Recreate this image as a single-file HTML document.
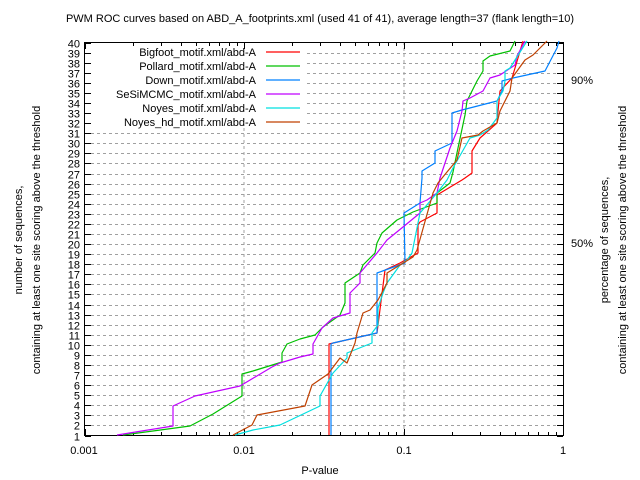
<!DOCTYPE html>
<html><head><meta charset="utf-8"><style>body{margin:0;background:#fff}svg{display:block}text{font-family:"Liberation Sans",sans-serif;font-size:11px;fill:#000}</style></head><body>
<svg width="640" height="480" xmlns="http://www.w3.org/2000/svg">
<g id="grid" stroke="#a0a0a0" stroke-dasharray="3,3" stroke-width="1"></g>
<rect x="85" y="43" width="222" height="85" fill="#fff"/>
<line x1="244" y1="128" x2="244" y2="435" stroke="#a0a0a0" stroke-dasharray="3,3"/>
<line x1="404" y1="42" x2="404" y2="435" stroke="#a0a0a0" stroke-dasharray="3,3"/>
<g id="ticks" stroke="#000"></g>
<rect x="84.5" y="42.5" width="479" height="393" fill="none" stroke="#000"/>
<g fill="none" stroke-width="1.2" stroke-linejoin="round">
<polyline stroke="#ff0000" points="329,435 329,344 355,338 377,333 385,270 400,263 418,253 418,225 420,222 437,213 437,195 462,180 465,178 472,173 472,151 480,138 488,131 497,123 498,111 500,91 512,78 515,68 518,58 523,41"/>
<polyline stroke="#00c000" points="123,435 190,426 213,414 242,396 242,374 253,371 282,362 282,353 287,344 300,339 315,335 323,327 340,315 345,303 345,283 360,273 363,265 375,253 377,243 382,233 397,220 413,212 437,203 437,193 450,183 453,172 458,148 465,115 467,101 477,81 483,71 483,61 490,56 510,51 515,41"/>
<polyline stroke="#0080ff" points="331,435 331,344 333,343 355,338 377,333 377,273 405,263 404,213 420,203 422,178 422,171 435,163 435,151 452,143 452,113 462,110 497,101 502,91 502,81 513,78 545,71 557,48 559,41"/>
<polyline stroke="#c000ff" points="117,435 173,426 173,406 195,396 240,386 272,367 280,363 300,357 313,354 313,344 322,328 333,318 350,313 350,293 360,283 360,273 377,253 387,240 403,227 420,213 420,203 427,200 437,193 440,178 450,148 457,131 462,111 463,101 470,98 483,91 490,78 500,75 515,65 517,56 525,41"/>
<polyline stroke="#00e0e0" points="235,435 253,430 280,425 320,406 320,396 333,373 347,358 347,353 372,343 372,333 378,325 378,308 383,293 387,283 395,272 400,265 407,260 412,253 420,213 437,193 447,180 453,168 470,138 480,135 488,130 497,118 497,101 503,91 505,81 505,71 510,68 527,41"/>
<polyline stroke="#c04000" points="233,435 252,425 257,415 305,406 312,385 328,374 340,358 347,363 355,343 357,333 363,313 370,310 378,300 387,283 387,273 413,257 417,250 433,193 438,183 447,172 457,160 462,138 478,135 483,131 497,123 500,111 510,91 512,78 525,60 533,55 543,45 547,41"/>
</g>
<g font-size="11">
<text x="256" y="56" text-anchor="end">Bigfoot_motif.xml/abd-A</text>
<text x="256" y="70" text-anchor="end">Pollard_motif.xml/abd-A</text>
<text x="256" y="84" text-anchor="end">Down_motif.xml/abd-A</text>
<text x="256" y="98" text-anchor="end">SeSiMCMC_motif.xml/abd-A</text>
<text x="256" y="112" text-anchor="end">Noyes_motif.xml/abd-A</text>
<text x="256" y="126" text-anchor="end">Noyes_hd_motif.xml/abd-A</text>
</g>
<g stroke-width="1.2">
<line x1="266" x2="300" y1="52" y2="52" stroke="#ff0000"/>
<line x1="266" x2="300" y1="66" y2="66" stroke="#00c000"/>
<line x1="266" x2="300" y1="80" y2="80" stroke="#0080ff"/>
<line x1="266" x2="300" y1="94" y2="94" stroke="#c000ff"/>
<line x1="266" x2="300" y1="108" y2="108" stroke="#00e0e0"/>
<line x1="266" x2="300" y1="122" y2="122" stroke="#c04000"/>
</g>
<g id="ylab"></g>
<text x="84" y="454" text-anchor="middle">0.001</text>
<text x="244" y="454" text-anchor="middle">0.01</text>
<text x="404" y="454" text-anchor="middle">0.1</text>
<text x="563" y="454" text-anchor="middle">1</text>
<text x="571" y="84">90%</text>
<text x="571" y="247">50%</text>
<text x="320" y="22" text-anchor="middle">PWM ROC curves based on ABD_A_footprints.xml (used 41 of 41), average length=37 (flank length=10)</text>
<text x="320" y="474" text-anchor="middle">P-value</text>
<text transform="translate(22,240) rotate(-90)" text-anchor="middle">number of sequences,</text>
<text transform="translate(40,240) rotate(-90)" text-anchor="middle">containing at least one site scoring above the threshold</text>
<text transform="translate(608,240) rotate(-90)" text-anchor="middle">percentage of sequences,</text>
<text transform="translate(626,240) rotate(-90)" text-anchor="middle">containing at least one site scoring above the threshold</text>
</svg>
<script>
(function(){var ns="http://www.w3.org/2000/svg";var g=document.getElementById("grid"),t=document.getElementById("ticks"),l=document.getElementById("ylab");
function ln(p,a){var e=document.createElementNS(ns,"line");for(var k in a)e.setAttribute(k,a[k]);p.appendChild(e);}
for(var n=1;n<=40;n++){var y=435.5-(n-1)*(393/39);y=Math.round(y)+0.5;
if(n>1&&n<40)ln(g,{x1:(y<128?307:85),x2:563,y1:y,y2:y});
ln(t,{x1:85,x2:91,y1:y,y2:y});ln(t,{x1:557,x2:563,y1:y,y2:y});
var e=document.createElementNS(ns,"text");e.setAttribute("x",80);e.setAttribute("y",y+4);e.setAttribute("text-anchor","end");e.textContent=n;l.appendChild(e);}
for(var d=0;d<3;d++)for(var m=1;m<=10;m++){var x=84.5+159.5*(d+Math.log10(m));x=Math.round(x)+0.5;var L=(m==1||m==10)?6:3;
ln(t,{x1:x,x2:x,y1:435,y2:435-L});ln(t,{x1:x,x2:x,y1:43,y2:43+L});}
})();
</script>
</body></html>
